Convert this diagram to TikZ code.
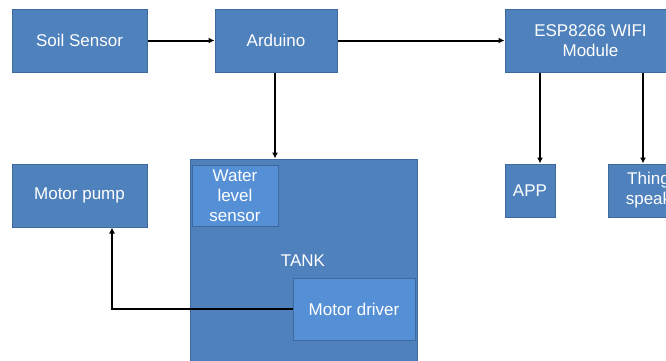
\documentclass[tikz,border=0pt]{standalone}
\usepackage{fontspec}
\setmainfont{Liberation Sans}
\usetikzlibrary{arrows.meta}
\definecolor{boxfill}{HTML}{4F81BD}
\definecolor{boxline}{HTML}{3F6A9E}
\definecolor{innerfill}{HTML}{5590D6}
\tikzset{
  blk/.style={draw=boxline, line width=1pt, fill=boxfill, text=white, align=center, inner sep=0pt,
    font=\fontsize{17}{20}\selectfont},
  inblk/.style={blk, fill=innerfill},
  conn/.style={line width=2pt, -{Latex[length=6pt,width=6pt]}}
}
\begin{document}
\begin{tikzpicture}[x=1pt,y=-1pt]
\useasboundingbox (0,0) rectangle (666,360);
\clip (0,0) rectangle (666,360);
\fill[white] (0,0) rectangle (666,360);
\node[blk, minimum width=135pt, minimum height=63pt] (soil) at (79.5,40.5) {Soil Sensor};
\node[blk, minimum width=122pt, minimum height=63pt] (ard) at (276,40.5) {Arduino};
\node[blk, minimum width=171pt, minimum height=63pt] (esp) at (590.5,40.5) {ESP8266 WIFI\\Module};
\node[blk, minimum width=50pt, minimum height=53pt] (app) at (530,190.5) {APP};
\node[blk, minimum width=81pt, minimum height=53pt] (thing) at (648.5,190.5) {Thing\\speak};
\node[blk, minimum width=135pt, minimum height=63pt] (pump) at (79.5,195.5) {Motor pump};
\node[blk, minimum width=227pt, minimum height=230pt] (tank) at (303.5,274) {};
\node[text=white, font=\fontsize{17}{20}\selectfont] (tanklbl) at (303,261) {TANK};
\node[inblk, minimum width=86pt, minimum height=61pt] (wls) at (235,195.5) {Water\\level\\sensor};
\coordinate (bend) at (112,309);
\draw[line width=2pt] (293,309) -- (bend);
\node[inblk, minimum width=122pt, minimum height=62pt] (drv) at (354,309) {Motor driver};
\draw[conn] (soil.east) -- (ard.west);
\draw[conn] (ard.east) -- (esp.west);
\draw[conn] (ard.south -| 275,0) -- (tank.north -| 275,0);
\draw[conn] (esp.south -| 540,0) -- (app.north -| 540,0);
\draw[conn] (esp.south -| 643,0) -- (thing.north -| 643,0);
\draw[conn] (drv.west) -- (bend) -- (pump.south -| bend);
\end{tikzpicture}
\end{document}
